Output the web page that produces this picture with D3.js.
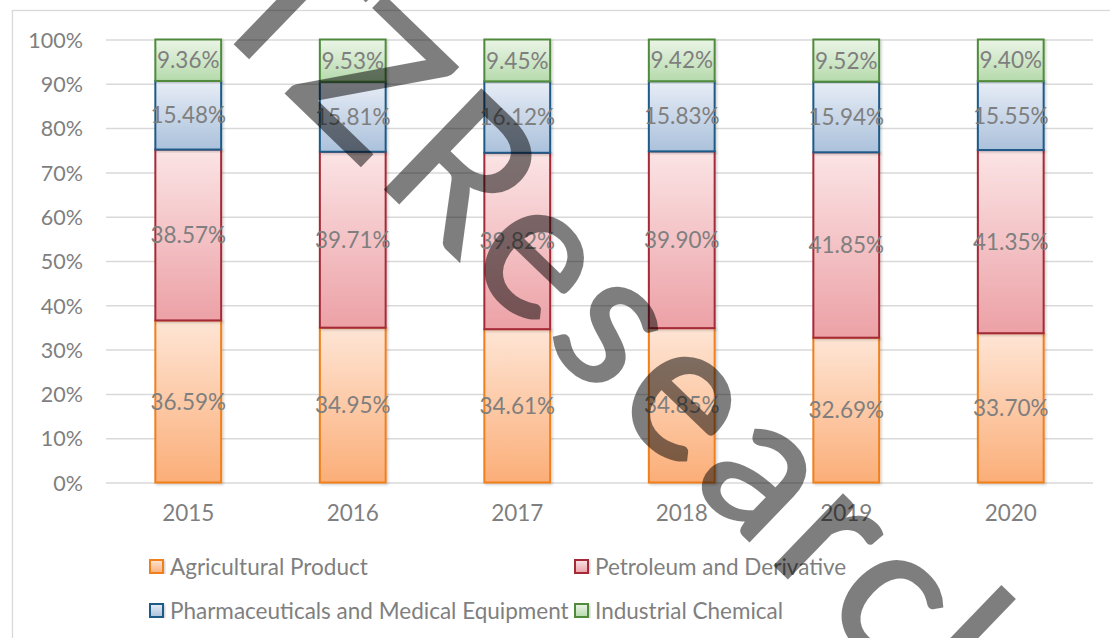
<!DOCTYPE html>
<html>
<head>
<meta charset="utf-8">
<script src="https://cdn.jsdelivr.net/npm/d3@7"></script>
<style>
  body { margin: 0; background: #fff; }
  text { font-family: Lato, "Open Sans", sans-serif; }
</style>
</head>
<body>
<div id="chart"></div>
<script>
// chart values
const years = ['2015', '2016', '2017', '2018', '2019', '2020'];
const agricultural = [36.59, 34.95, 34.61, 34.85, 32.69, 33.70];
const petroleum    = [38.57, 39.71, 39.82, 39.90, 41.85, 41.35];
const pharma       = [15.48, 15.81, 16.12, 15.83, 15.94, 15.55];
const industrial   = [9.36, 9.53, 9.45, 9.42, 9.52, 9.40];
const seriesNames = [
  'Agricultural Product',
  'Petroleum and Derivative',
  'Pharmaceuticals and Medical Equipment',
  'Industrial Chemical'
];
const yTicks = [0, 0.1, 0.2, 0.3, 0.4, 0.5, 0.6, 0.7, 0.8, 0.9, 1];

// svg size and plot area
const svgW = 1110, svgH = 638;
const margin = { top: 39.5, right: 17, bottom: 155.5, left: 106 };

// colours per series: gradient top, gradient bottom, border
const palette = [
  { top: '#fee5d5', bottom: '#fbae78', line: '#f07f1c' },
  { top: '#fbe4e5', bottom: '#eca1a6', line: '#a52a38' },
  { top: '#e7edf6', bottom: '#abc1db', line: '#1f5a88' },
  { top: '#ebf5e7', bottom: '#b5daab', line: '#4f8a3c' }
];
const textGray = '#7f7f7f';
const fontSize = '22.5px';

const rows = years.map((y, i) => ({
  year: y,
  s0: agricultural[i], s1: petroleum[i], s2: pharma[i], s3: industrial[i]
}));
const keys = ['s0', 's1', 's2', 's3'];

const chart = d3.select('#chart').append('svg')
  .attr('width', svgW)
  .attr('height', svgH);

// gradients and bar shadow
const defs = chart.append('defs');
palette.forEach((p, i) => {
  const g = defs.append('linearGradient')
    .attr('id', 'grad' + i)
    .attr('x1', 0).attr('y1', 0).attr('x2', 0).attr('y2', 1);
  g.append('stop').attr('offset', '0%').attr('stop-color', p.top);
  g.append('stop').attr('offset', '100%').attr('stop-color', p.bottom);
});
defs.append('filter').attr('id', 'shadow')
  .attr('x', '-20%').attr('y', '-5%').attr('width', '140%').attr('height', '110%')
  .append('feDropShadow')
    .attr('dx', 1.5).attr('dy', 1.5).attr('stdDeviation', 1)
    .attr('flood-color', '#000').attr('flood-opacity', 0.18);

// outer chart border
chart.append('rect')
  .attr('x', 12.5).attr('y', 10.5)
  .attr('width', 1200).attr('height', 700)
  .attr('fill', 'none').attr('stroke', '#d9d9d9').attr('stroke-width', 1.3);

// scales
const x = d3.scaleBand()
  .domain(years)
  .range([margin.left, svgW - margin.right])
  .paddingInner(0.6)
  .paddingOuter(0.3);
const y = d3.scaleLinear()
  .domain([0, 1])
  .range([svgH - margin.bottom, margin.top]);

// gridlines
chart.append('g')
  .attr('transform', `translate(${margin.left},0)`)
  .call(d3.axisLeft(y).tickValues(yTicks).tickSize(-(svgW - margin.left - margin.right)).tickFormat(''))
  .call(g => g.select('.domain').remove())
  .call(g => g.selectAll('line').attr('stroke', '#d9d9d9').attr('stroke-width', 1.5));

// y axis labels
chart.append('g')
  .attr('transform', `translate(${margin.left},0)`)
  .call(d3.axisLeft(y).tickValues(yTicks).tickSize(0).tickPadding(23).tickFormat(d3.format('.0%')))
  .call(g => g.select('.domain').remove())
  .call(g => g.selectAll('text')
    .attr('fill', textGray).style('font-size', '21.5px').attr('dy', '0.36em'));

// x axis labels
chart.append('g')
  .attr('transform', `translate(0,${y(0)})`)
  .call(d3.axisBottom(x).tickSize(0).tickPadding(23))
  .call(g => g.select('.domain').remove())
  .call(g => g.selectAll('text')
    .attr('fill', textGray).style('font-size', fontSize).attr('dy', '0.71em'));

// stacked data, as shares of 100%
const stacked = d3.stack().keys(keys).offset(d3.stackOffsetExpand)(rows);

const layers = chart.append('g')
  .selectAll('g')
  .data(stacked)
  .join('g');

layers.selectAll('rect')
  .data(d => d)
  .join('rect')
  .attr('x', d => x(d.data.year))
  .attr('width', x.bandwidth())
  .attr('y', d => y(d[1]))
  .attr('height', d => y(d[0]) - y(d[1]))
  .attr('fill', function () { return `url(#grad${d3.select(this.parentNode).datum().index})`; })
  .attr('stroke', function () { return palette[d3.select(this.parentNode).datum().index].line; })
  .attr('stroke-width', 2)
  .attr('filter', 'url(#shadow)');

// value labels in the middle of each segment
layers.selectAll('text')
  .data(d => d.map(v => ({ v, key: d.key })))
  .join('text')
  .attr('x', d => x(d.v.data.year) + x.bandwidth() / 2)
  .attr('y', d => (y(d.v[0]) + y(d.v[1])) / 2)
  .attr('dy', '0.36em')
  .attr('text-anchor', 'middle')
  .attr('fill', textGray)
  .style('font-size', fontSize)
  .text(d => d.v.data[d.key].toFixed(2) + '%');

// legend, two columns
const legendCols = [150, 575];
const legendRows = [567, 611];
const legend = chart.append('g');
seriesNames.forEach((name, i) => {
  const row = legend.append('g')
    .attr('transform', `translate(${legendCols[i % 2]},${legendRows[Math.floor(i / 2)]})`);
  row.append('rect')
    .attr('x', 0).attr('y', -7)
    .attr('width', 13).attr('height', 13)
    .attr('fill', `url(#grad${i})`)
    .attr('stroke', palette[i].line).attr('stroke-width', 2)
    .attr('filter', 'url(#shadow)');
  row.append('text')
    .attr('x', 20).attr('y', 0).attr('dy', '0.36em')
    .attr('fill', textGray)
    .style('font-size', fontSize)
    .text(name);
});

// diagonal watermark across the chart
const mark = chart.append('g')
  .attr('opacity', 0.5)
  .attr('transform', 'translate(283,90) rotate(44)');
mark.append('text')
  .attr('text-anchor', 'end')
  .attr('fill', '#000').attr('stroke', '#000').attr('stroke-width', 3)
  .style('font-size', '192px')
  .text('T');
mark.append('text')
  .attr('text-anchor', 'start')
  .attr('fill', '#000').attr('stroke', '#000').attr('stroke-width', 3)
  .style('font-size', '192px')
  .style('letter-spacing', '10px')
  .text('ZResearch');
</script>
</body>
</html>
